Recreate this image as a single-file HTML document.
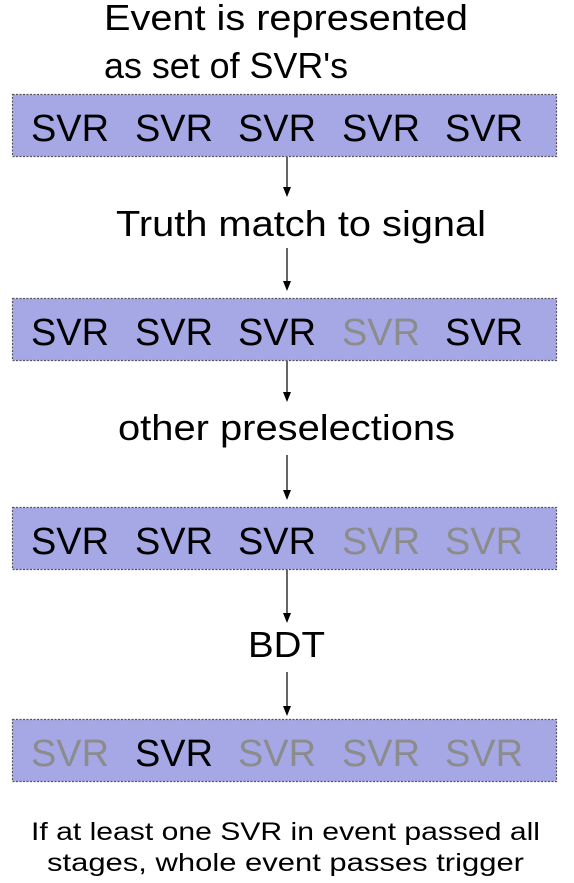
<!DOCTYPE html>
<html><head><meta charset="utf-8"><style>
html,body{margin:0;padding:0;background:#fff;}
svg{display:block;font-family:"Liberation Sans",Arial,sans-serif;}
</style></head><body>
<svg width="574" height="883" viewBox="0 0 574 883" xmlns="http://www.w3.org/2000/svg">
<g font-size="36" fill="#000">
<text x="104" y="30" textLength="364" lengthAdjust="spacingAndGlyphs">Event is represented</text>
<text x="104" y="78" textLength="244" lengthAdjust="spacingAndGlyphs">as set of SVR's</text>
<text x="116" y="236" textLength="370" lengthAdjust="spacingAndGlyphs">Truth match to signal</text>
<text x="118" y="440" textLength="337" lengthAdjust="spacingAndGlyphs">other preselections</text>
<text x="248" y="657" textLength="77" lengthAdjust="spacingAndGlyphs">BDT</text>
</g>
<g fill="#a6a8e6" stroke="#555" stroke-width="1.2" stroke-dasharray="2,1.5">
<rect x="12.5" y="94.5" width="544" height="62"/>
<rect x="12.5" y="298.5" width="544" height="62"/>
<rect x="12.5" y="507.5" width="544" height="62"/>
<rect x="12.5" y="719.5" width="544" height="62"/>
</g>
<g stroke="#000" stroke-width="1.2">
<line x1="287" y1="157" x2="287" y2="188"/>
<line x1="287" y1="248" x2="287" y2="282"/>
<line x1="287" y1="361" x2="287" y2="393"/>
<line x1="287" y1="455" x2="287" y2="491"/>
<line x1="287" y1="570" x2="287" y2="614"/>
<line x1="287" y1="672" x2="287" y2="707"/>
</g>
<g fill="#000">
<polygon points="283,187 291,187 287,197"/>
<polygon points="283,281 291,281 287,291"/>
<polygon points="283,392 291,392 287,402"/>
<polygon points="283,490 291,490 287,500"/>
<polygon points="283,613 291,613 287,623"/>
<polygon points="283,706 291,706 287,716"/>
</g>
<g font-size="38">
<g transform="translate(0,141)">
<text x="31" fill="#000" textLength="78" lengthAdjust="spacingAndGlyphs">SVR</text><text x="135" fill="#000" textLength="78" lengthAdjust="spacingAndGlyphs">SVR</text><text x="238" fill="#000" textLength="78" lengthAdjust="spacingAndGlyphs">SVR</text><text x="342" fill="#000" textLength="78" lengthAdjust="spacingAndGlyphs">SVR</text><text x="445" fill="#000" textLength="78" lengthAdjust="spacingAndGlyphs">SVR</text>
</g>
<g transform="translate(0,345)">
<text x="31" fill="#000" textLength="78" lengthAdjust="spacingAndGlyphs">SVR</text><text x="135" fill="#000" textLength="78" lengthAdjust="spacingAndGlyphs">SVR</text><text x="238" fill="#000" textLength="78" lengthAdjust="spacingAndGlyphs">SVR</text><text x="342" fill="#8c8c8c" textLength="78" lengthAdjust="spacingAndGlyphs">SVR</text><text x="445" fill="#000" textLength="78" lengthAdjust="spacingAndGlyphs">SVR</text>
</g>
<g transform="translate(0,554)">
<text x="31" fill="#000" textLength="78" lengthAdjust="spacingAndGlyphs">SVR</text><text x="135" fill="#000" textLength="78" lengthAdjust="spacingAndGlyphs">SVR</text><text x="238" fill="#000" textLength="78" lengthAdjust="spacingAndGlyphs">SVR</text><text x="342" fill="#8c8c8c" textLength="78" lengthAdjust="spacingAndGlyphs">SVR</text><text x="445" fill="#8c8c8c" textLength="78" lengthAdjust="spacingAndGlyphs">SVR</text>
</g>
<g transform="translate(0,766)">
<text x="31" fill="#8c8c8c" textLength="78" lengthAdjust="spacingAndGlyphs">SVR</text><text x="135" fill="#000" textLength="78" lengthAdjust="spacingAndGlyphs">SVR</text><text x="238" fill="#8c8c8c" textLength="78" lengthAdjust="spacingAndGlyphs">SVR</text><text x="342" fill="#8c8c8c" textLength="78" lengthAdjust="spacingAndGlyphs">SVR</text><text x="445" fill="#8c8c8c" textLength="78" lengthAdjust="spacingAndGlyphs">SVR</text>
</g>
</g>
<g font-size="25" fill="#000">
<text x="31" y="840" textLength="509" lengthAdjust="spacingAndGlyphs">If at least one SVR in event passed all</text>
<text x="47" y="871" textLength="477" lengthAdjust="spacingAndGlyphs">stages, whole event passes trigger</text>
</g>
</svg>
</body></html>
